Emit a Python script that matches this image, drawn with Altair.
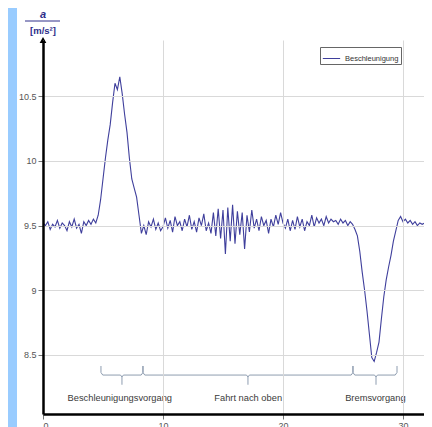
import altair as alt
import pandas as pd

# ---- data -------------------------------------------------------------
STEP = 0.2  # sampling interval in seconds
accel = [
    9.52, 9.50, 9.53, 9.47, 9.51, 9.49, 9.54, 9.48, 9.52, 9.50,
    9.46, 9.53, 9.49, 9.55, 9.48, 9.51, 9.44, 9.53, 9.50, 9.54,
    9.51, 9.55, 9.52, 9.58, 9.70, 9.86, 10.02, 10.16, 10.28, 10.45,
    10.60, 10.55, 10.65, 10.52, 10.36, 10.22, 10.02, 9.86, 9.79, 9.72,
    9.58, 9.44, 9.50, 9.43, 9.53, 9.49, 9.55, 9.47, 9.52, 9.46,
    9.49, 9.56, 9.48, 9.54, 9.45, 9.57, 9.50, 9.53, 9.46, 9.55,
    9.49, 9.58, 9.47, 9.53, 9.45, 9.56, 9.50, 9.59, 9.46, 9.52,
    9.44, 9.60, 9.42, 9.63, 9.40, 9.62, 9.28, 9.64, 9.38, 9.66,
    9.36, 9.61, 9.43, 9.60, 9.32, 9.58, 9.45, 9.62, 9.48, 9.55,
    9.46, 9.57, 9.50, 9.54, 9.44, 9.55, 9.49, 9.58, 9.51, 9.60,
    9.52, 9.48, 9.55, 9.46, 9.54, 9.47, 9.57, 9.49, 9.55, 9.46,
    9.53, 9.50, 9.58, 9.49, 9.56, 9.52, 9.55, 9.50, 9.57, 9.52,
    9.55, 9.53, 9.54, 9.51, 9.55, 9.52, 9.54, 9.50, 9.53, 9.51,
    9.47, 9.42, 9.30, 9.14, 9.00, 8.84, 8.66, 8.48, 8.45, 8.52,
    8.60, 8.78, 8.95, 9.08, 9.18, 9.27, 9.38, 9.46, 9.54, 9.57,
    9.53, 9.55, 9.52, 9.54, 9.51, 9.53, 9.50, 9.52, 9.51, 9.52,
]
series_name = "Beschleunigung"

phase_names = ["Beschleunigungsvorgang", "Fahrt nach oben", "Bremsvorgang"]
phase_start = [4.83, 8.33, 25.83]
phase_mid = [6.58, 17.08, 27.75]
phase_end = [8.33, 25.83, 29.5]
label_x = [6.4, 17.1, 27.7]

x_ticks = [0, 10, 20, 30]
y_ticks = [8.5, 9, 9.5, 10, 10.5]

# ---- tables -------------------------------------------------------------
df = pd.DataFrame({"t": [i * STEP for i in range(len(accel))], "a": accel,
                   "s": series_name})

Y_TOP, Y_MID, Y_TIP = 8.415, 8.345, 8.27
rows = []
for k, (x0, xc, x1) in enumerate(zip(phase_start, phase_mid, phase_end)):
    left = [(x0, Y_TOP), (x0, 8.365), (x0 + 0.15, Y_MID), (xc - 0.12, Y_MID),
            (xc, 8.33), (xc, Y_TIP)]
    right = [(xc, 8.33), (xc + 0.12, Y_MID), (x1 - 0.15, Y_MID), (x1, 8.365),
             (x1, Y_TOP)]
    for side, pts in (("L", left), ("R", right)):
        for j, (x, y) in enumerate(pts):
            rows.append({"seg": f"{k}{side}", "o": j, "t": x, "a": y})
brace_df = pd.DataFrame(rows)
label_df = pd.DataFrame({"t": label_x, "name": phase_names, "a": 8.168})

X_DOM = [0, 31.75]
Y_DOM = [8.044, 10.934]
LINE = "#3f3f9c"
NAVY = "#2e2e8a"

xs = alt.Scale(domain=X_DOM, nice=False, zero=False)
ys = alt.Scale(domain=Y_DOM, nice=False, zero=False)

axis_style = dict(
    title=None, format="~g", zindex=1, grid=True, gridColor="#d9d9d9",
    gridWidth=1, domainColor="black", domainWidth=2.5, tickColor="#777",
    tickSize=5, labelFontSize=9, labelColor="#555",
    labelFont="Liberation Sans", labelPadding=2,
)

one = alt.Data(values=[{}])

panel = alt.Chart(one).mark_rect(color="white").encode(
    x=alt.value(-26), x2=alt.value(400), y=alt.value(-35), y2=alt.value(400)
)

line = alt.Chart(df).mark_line(strokeWidth=1.1, clip=True).encode(
    x=alt.X("t:Q", scale=xs, axis=alt.Axis(values=x_ticks, **axis_style)),
    y=alt.Y("a:Q", scale=ys, axis=alt.Axis(values=y_ticks, **axis_style)),
    color=alt.Color("s:N", scale=alt.Scale(domain=[series_name], range=[LINE]),
                    legend=alt.Legend(title=None, orient="none", legendX=277,
                                      legendY=7, symbolType="stroke",
                                      symbolSize=300, symbolStrokeWidth=1,
                                      labelFontSize=7.5, labelColor="#333",
                                      labelFont="Liberation Sans",
                                      labelOffset=4,
                                      strokeColor="#666", fillColor="white",
                                      padding=2, cornerRadius=0)),
)

braces = alt.Chart(brace_df).mark_line(color="#8e9db0", strokeWidth=1).encode(
    x=alt.X("t:Q", scale=xs), y=alt.Y("a:Q", scale=ys),
    detail="seg:N", order="o:Q",
)

labels = alt.Chart(label_df).mark_text(
    font="Liberation Sans", fontSize=9.3, color="#3a3a3a"
).encode(x=alt.X("t:Q", scale=xs), y=alt.Y("a:Q", scale=ys), text="name:N")

t_a = alt.Chart(one).mark_text(
    font="Liberation Sans", fontSize=11, fontWeight="bold", fontStyle="italic",
    color=NAVY
).encode(x=alt.value(0), y=alt.value(-25), text=alt.value("a"))
t_rule = alt.Chart(one).mark_rule(color=NAVY, strokeWidth=1).encode(
    x=alt.value(-18), x2=alt.value(17), y=alt.value(-19)
)
t_unit = alt.Chart(one).mark_text(
    font="Liberation Sans", fontSize=9.5, fontWeight="bold", color=NAVY
).encode(x=alt.value(0), y=alt.value(-9), text=alt.value("[m/s²]"))
arrow = alt.Chart(one).mark_point(
    shape="triangle-up", filled=True, color="black", size=45, opacity=1
).encode(x=alt.value(0), y=alt.value(0))

chart = alt.layer(panel, line, braces, labels, t_a, t_rule, t_unit, arrow).properties(
    width=381, height=374,
    autosize=alt.AutoSizeParams(type="none"),
    padding={"left": 35, "top": 32, "right": 0, "bottom": 13},
    background="#99ccff",
).configure_view(stroke=None)

chart.save("out.html", embed_options={"renderer": "svg", "actions": False})
